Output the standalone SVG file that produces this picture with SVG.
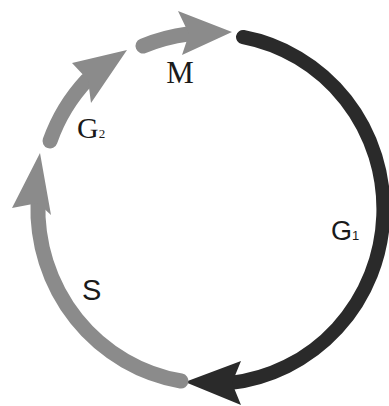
<svg xmlns="http://www.w3.org/2000/svg" width="389" height="406" viewBox="0 0 389 406">
  <style>
    .shaft{fill:none;stroke-width:14;stroke-linecap:round}
    .dark{stroke:#2a2a2a}
    .gray{stroke:#8b8b8b;stroke-width:15}
    .headDark{fill:#2a2a2a}
    .headGray{fill:#8b8b8b}
    .serif{font-family:"Liberation Serif","Times New Roman",serif;fill:#1a1a1a}
    .sans{font-family:"Liberation Sans",Arial,sans-serif;fill:#1a1a1a}
  </style>
  <rect width="389" height="406" fill="#ffffff"/>
  <g id="connectors">
    <g id="G1-arc">
      <path class="shaft dark" d="M 243 37 A 172 175 0 0 1 230 383"/>
      <polygon class="headDark" points="185,382 241,361 232,383 241,405"/>
    </g>
    <g id="S-arc">
      <path class="shaft gray" d="M 181 381 A 172 175 0 0 1 38 202"/>
      <polygon class="headGray" points="40,153 51,215 38,203 12,208"/>
    </g>
    <g id="G2-arc">
      <path class="shaft gray" d="M 50 141 A 175 175 0 0 1 87 80"/>
      <polygon class="headGray" points="127,50 91,103 88,80 72,63"/>
    </g>
    <g id="M-arc">
      <path class="shaft gray" d="M 143 46 A 178 178 0 0 1 188 34"/>
      <polygon class="headGray" points="232,32 182,55 189,34 178,11"/>
    </g>
  </g>
  <g id="label-M"><text class="serif" x="180" y="83" font-size="31" text-anchor="middle">M</text></g>
  <g id="label-G2"><text class="serif" x="77" y="138" font-size="30">G<tspan font-size="13">2</tspan></text></g>
  <g id="label-G1"><text class="sans" x="331" y="240" font-size="27">G<tspan font-size="13">1</tspan></text></g>
  <g id="label-S"><text class="sans" x="82" y="300" font-size="29">S</text></g>
</svg>
